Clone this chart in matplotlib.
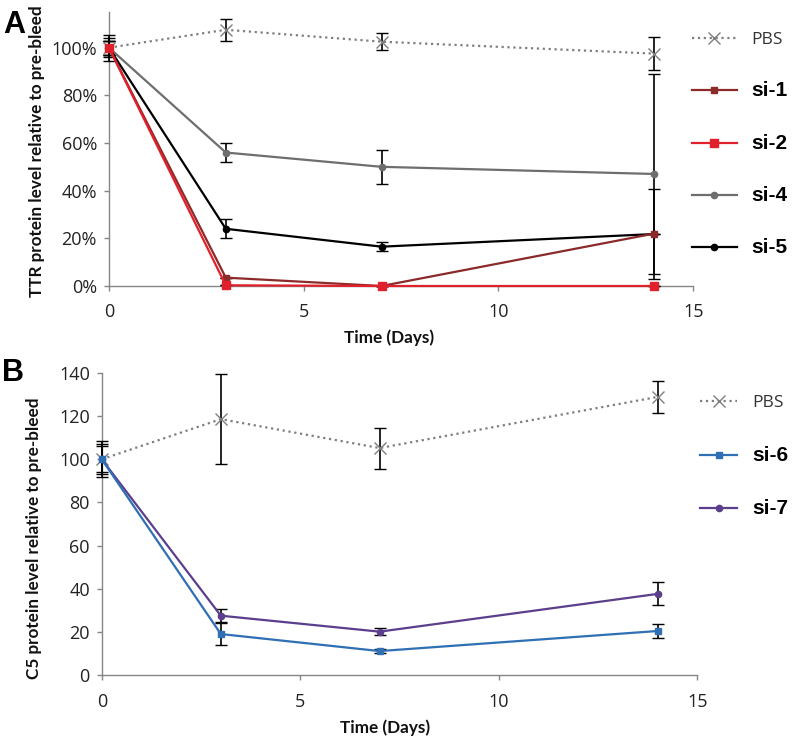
import matplotlib
matplotlib.use("Agg")
import matplotlib.pyplot as plt
from matplotlib.ticker import FuncFormatter
from matplotlib.lines import Line2D

# ---- Data ----
days = [0, 3, 7, 14]

# Panel A (fraction of pre-bleed)
a_pbs = [1.00, 1.075, 1.025, 0.975]
a_pbs_err = [0.055, 0.045, 0.035, 0.07]
a_si1 = [1.00, 0.035, 0.0, 0.22]
a_si1_err = [0.03, 0.0, 0.0, 0.0]
a_si2 = [1.00, 0.003, 0.0, 0.0]
a_si2_err = [0.03, 0.0, 0.0, 0.0]
a_si4 = [1.00, 0.56, 0.50, 0.47]
a_si4_err = [0.04, 0.04, 0.07, 0.42]
a_si5 = [1.00, 0.24, 0.165, 0.218]
a_si5_err = [0.03, 0.04, 0.018, 0.187]

# Panel B (percent of pre-bleed)
b_pbs = [100, 118.6, 105.2, 128.9]
b_pbs_err = [8.3, 21.0, 9.5, 7.4]
b_si6 = [100, 19.0, 11.1, 20.4]
b_si6_err = [6.0, 5.0, 1.0, 3.2]
b_si7 = [100, 27.5, 20.1, 37.6]
b_si7_err = [7.0, 3.0, 1.5, 5.3]

a_yticks = [0, 0.2, 0.4, 0.6, 0.8, 1.0]
b_yticks = [0, 20, 40, 60, 80, 100, 120, 140]
xticks = [0, 5, 10, 15]

# ---- Style ----
TICK_FONT = "Open Sans"
LAB_FONT = "Lato"
LEG_FONT = "Liberation Sans"
axis_col = "#868686"

col = {"PBS": "#7f7f7f", "si-1": "#8c2a2a", "si-2": "#e0202a",
       "si-4": "#6e6e6e", "si-5": "#000000", "si-6": "#2f6fb3", "si-7": "#5b3f8c"}
mk = {"PBS": ("x", 9), "si-1": ("s", 4.5), "si-2": ("s", 5.5), "si-4": ("o", 4.5),
      "si-5": ("o", 4.5), "si-6": ("s", 4.5), "si-7": ("o", 4.5)}

fig = plt.figure(figsize=(7.95, 7.44), dpi=100)
axA = fig.add_axes([0.137, 0.6156, 0.735, 0.3684])
axB = fig.add_axes([0.128, 0.0927, 0.749, 0.406])


def style_axes(ax):
    for s in ["top", "right"]:
        ax.spines[s].set_visible(False)
    for s in ["left", "bottom"]:
        ax.spines[s].set_color(axis_col)
        ax.spines[s].set_linewidth(1.0)
    ax.tick_params(direction="out", color=axis_col, length=3.6, width=1.0,
                   labelsize=13)
    ax.tick_params(axis="x", pad=9)
    ax.tick_params(axis="y", pad=5)
    for lab in ax.get_xticklabels() + ax.get_yticklabels():
        lab.set_fontfamily(TICK_FONT)
        lab.set_color("#222222")


def series(ax, y, err, name):
    ls = ":" if name == "PBS" else "-"
    m, ms = mk[name]
    ax.errorbar(days, y, yerr=err, color=col[name], ecolor="black", elinewidth=1.2,
                capsize=4, capthick=1.2, marker=m, markersize=ms,
                linestyle=ls, linewidth=1.6, markeredgewidth=1.0,
                clip_on=False, zorder=3)


def handle(name):
    ls = ":" if name == "PBS" else "-"
    m, ms = mk[name]
    return Line2D([], [], color=col[name], marker=m, markersize=ms, linestyle=ls,
                  linewidth=1.6, markeredgewidth=1.0)


# Panel A
series(axA, a_pbs, a_pbs_err, "PBS")
series(axA, a_si4, a_si4_err, "si-4")
series(axA, a_si5, a_si5_err, "si-5")
series(axA, a_si1, a_si1_err, "si-1")
series(axA, a_si2, a_si2_err, "si-2")
axA.set_xlim(0, 15)
axA.set_ylim(0, 1.15)
axA.set_xticks(xticks)
axA.set_yticks(a_yticks)
axA.yaxis.set_major_formatter(FuncFormatter(lambda v, p: f"{v*100:.0f}%"))
style_axes(axA)

# Panel B
series(axB, b_pbs, b_pbs_err, "PBS")
series(axB, b_si7, b_si7_err, "si-7")
series(axB, b_si6, b_si6_err, "si-6")
axB.set_xlim(0, 15)
axB.set_ylim(0, 140)
axB.set_xticks(xticks)
axB.set_yticks(b_yticks)
style_axes(axB)

# Axis labels
lab_kw = dict(fontsize=12.3, fontweight="bold", family=LAB_FONT, color="#111111",
              ha="center", va="center")
fig.text(0.489, 0.5457, "Time (Days)", **lab_kw)
fig.text(0.484, 0.0215, "Time (Days)", **lab_kw)
fig.text(0.0465, 0.797, "TTR protein level relative to pre-bleed", rotation=90, **lab_kw)
fig.text(0.0428, 0.277, "C5 protein level relative to pre-bleed", rotation=90, **lab_kw)


# Legends (ordered)
def make_legend(ax, order, bbox, spacing, hl):
    hs = [handle(k) for k in order]
    leg = ax.legend(hs, order, loc="upper left", bbox_to_anchor=bbox,
                    bbox_transform=fig.transFigure, frameon=False,
                    handlelength=hl, handletextpad=0.9, labelspacing=spacing,
                    borderaxespad=0, borderpad=0, fontsize=12)
    for t in leg.get_texts():
        if t.get_text() == "PBS":
            t.set_fontfamily(TICK_FONT)
            t.set_fontsize(12.5)
            t.set_color("#333333")
        else:
            t.set_fontfamily(LEG_FONT)
            t.set_fontweight("bold")
            t.set_fontsize(15)
    return leg


make_legend(axA, ["PBS", "si-1", "si-2", "si-4", "si-5"], (0.870, 0.957), 2.0, 2.7)
make_legend(axB, ["PBS", "si-6", "si-7"], (0.881, 0.469), 2.07, 2.2)

fig.text(0.004, 0.955, "A", fontsize=22, fontweight="bold", family=LEG_FONT)
fig.text(0.002, 0.488, "B", fontsize=22, fontweight="bold", family=LEG_FONT)

fig.savefig("out.png", dpi=100)
